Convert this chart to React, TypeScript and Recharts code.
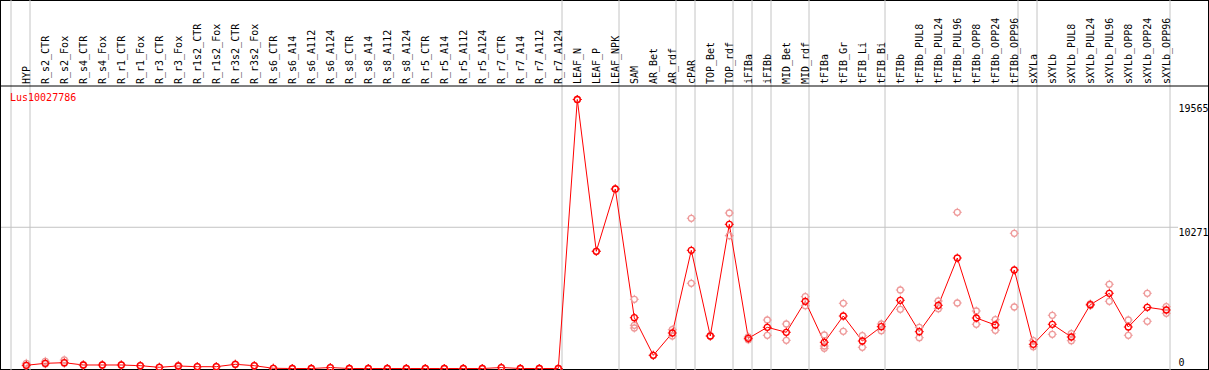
import React from 'react';
import { ComposedChart, Line, XAxis, YAxis, ReferenceLine } from 'recharts';

// ---------- data ----------
const geneId = 'Lus10027786';

const categories = [
  'HYP', 'R_s2_CTR', 'R_s2_Fox', 'R_s4_CTR', 'R_s4_Fox', 'R_r1_CTR', 'R_r1_Fox', 'R_r3_CTR', 'R_r3_Fox',
  'R_r1s2_CTR', 'R_r1s2_Fox', 'R_r3s2_CTR', 'R_r3s2_Fox', 'R_s6_CTR', 'R_s6_A14', 'R_s6_A112', 'R_s6_A124',
  'R_s8_CTR', 'R_s8_A14', 'R_s8_A112', 'R_s8_A124', 'R_r5_CTR', 'R_r5_A14', 'R_r5_A112', 'R_r5_A124',
  'R_r7_CTR', 'R_r7_A14', 'R_r7_A112', 'R_r7_A124', 'LEAF_N', 'LEAF_P', 'LEAF_NPK', 'SAM', 'AR_Bet', 'AR_rdf',
  'cPAR', 'TOP_Bet', 'TOP_rdf', 'iFIBa', 'iFIBb', 'MID_Bet', 'MID_rdf', 'tFIBa', 'tFIB_Gr', 'tFIB_Li', 'tFIB_Bi',
  'tFIBb', 'tFIBb_PUL8', 'tFIBb_PUL24', 'tFIBb_PUL96', 'tFIBb_OPP8', 'tFIBb_OPP24', 'tFIBb_OPP96',
  'sXYLa', 'sXYLb', 'sXYLb_PUL8', 'sXYLb_PUL24', 'sXYLb_PUL96', 'sXYLb_OPP8', 'sXYLb_OPP24', 'sXYLb_OPP96',
];

const meanValues = [
  233, 378, 422, 255, 255, 255, 204, 87, 182, 131, 131, 305, 204, 15, 0, 0, 70, 0, 0, 0, 0, 0, 0, 0, 0, 70, 0, 0, 0,
  19565, 8524, 13055, 3695, 960, 2582, 8596, 2364, 10487, 2196, 2996, 2633, 4887, 1905, 3818, 2000, 3040,
  4960, 2676, 4596, 8036, 3673, 3164, 7164, 1760, 3215, 2291, 4640, 5469, 3018, 4451, 4255,
];

const rep1Values = [
  378, 524, 618, 280, 270, 270, 215, 100, 230, 140, 140, 320, 215, 15, 0, 0, 70, 0, 0, 0, 0, 0, 0, 0, 0, 70, 0, 0, 0,
  19565, 8524, 13055, 5033, 960, 2822, 10924, 2364, 11309, 2300, 3527, 3236, 5222, 2436, 4742, 2385, 3236,
  5709, 2996, 4909, 11360, 4182, 3549, 9833, 2022, 3869, 2531, 4700, 6124, 3527, 5469, 4495,
];

const rep2Values = [
  200, 330, 380, 230, 240, 240, 190, 75, 150, 120, 120, 290, 190, 15, 0, 0, 70, 0, 0, 0, 0, 0, 0, 0, 0, 70, 0, 0, 0,
  19565, 8524, 13055, 3142, 960, 2364, 6196, 2364, 9658, 2100, 2415, 2051, 4567, 1636, 2705, 1542, 2749,
  4305, 2240, 4349, 4764, 3215, 2778, 4473, 1585, 2487, 2022, 4580, 4887, 2415, 3433, 4015,
];

// third replicate, only where it is visible
const rep3Points = [
  { index: 32, value: 2945 },
  { index: 42, value: 1469 },
];

// column index where each gray group separator sits (before that column)
const groupStarts = [0, 1, 29, 32, 35, 36, 38, 39, 40, 42, 46, 53, 54, 61];

const yTicks = [0, 10271, 19565];
const gridValue = 10271;

// ---------- layout / style ----------
const W = 1209;
const H = 370;
const HEADER = 86;
const COL_PX = 19;
const FIRST_X = 26.3;
const Y0 = 368.5;
const PX_PER_UNIT = 0.01375;
const X_DOMAIN: [number, number] = [-FIRST_X / COL_PX, (W - FIRST_X) / COL_PX];
const Y_DOMAIN: [number, number] = [-(H - Y0) / PX_PER_UNIT, (Y0 - HEADER) / PX_PER_UNIT];
const Y_TOP_OF_PAGE = Y0 / PX_PER_UNIT;
const SEP_OFFSET = (11 - FIRST_X) / COL_PX;
const FONT = '"DejaVu Sans Mono", monospace';
const RED = '#ff0000';
const FADED = '#ee9a9a';
const GRAY = '#c4c4c4';
const tickDy = [-3, 8.7, 12.5];

const data = categories.map((name, i) => {
  const r3 = rep3Points.find((p) => p.index === i);
  return {
    x: i,
    name,
    mean: meanValues[i],
    rep1: rep1Values[i],
    rep2: rep2Values[i],
    rep3: r3 ? r3.value : null,
  };
});

const ring = (color: string) => (props: any) => {
  const { cx, cy, value, index } = props;
  if (value == null || cx == null || cy == null || isNaN(cy)) return <g key={`e${index}`} />;
  const r = 3;
  return (
    <g key={`d${index}`}>
      <circle cx={cx} cy={cy} r={r} fill="none" stroke={color} strokeWidth={1.3} />
      <path
        d={`M${cx} ${cy - r - 1.5}V${cy - r}M${cx} ${cy + r}V${cy + r + 1.5}M${cx - r - 1.5} ${cy}H${cx - r}M${cx + r} ${cy}H${cx + r + 1.5}`}
        stroke={color}
        strokeWidth={1}
      />
    </g>
  );
};

const ColumnTick = (props: any) => {
  const { x, payload } = props;
  return (
    <text
      transform={`translate(${x + 3.5},84) rotate(-90)`}
      fontFamily={FONT}
      fontSize={10}
      fill="#000"
      textAnchor="start"
    >
      {categories[payload.value]}
    </text>
  );
};

const ValueTick = (props: any) => {
  const { y, payload } = props;
  const i = yTicks.indexOf(payload.value);
  return (
    <text x={1178.5} y={y + (tickDy[i] ?? 0)} fontFamily={FONT} fontSize={10} fill="#000" textAnchor="start">
      {payload.value}
    </text>
  );
};

export default function App() {
  return (
    <div style={{ position: 'absolute', left: 0, top: 0, width: W, height: H, background: '#fff' }}>
      <div
        style={{
          position: 'absolute',
          left: 0,
          top: 0,
          width: W,
          height: H,
          boxSizing: 'border-box',
          border: '1px solid #000',
        }}
      />
      <div style={{ position: 'absolute', left: 0, top: 0 }}>
        <ComposedChart width={W} height={H} data={data} margin={{ top: 0, right: 0, bottom: 0, left: 0 }}>
          <XAxis
            dataKey="x"
            type="number"
            orientation="top"
            domain={X_DOMAIN}
            allowDataOverflow
            ticks={categories.map((_, i) => i)}
            interval={0}
            height={HEADER}
            tickLine={false}
            axisLine={{ stroke: '#000', strokeWidth: 1 }}
            tick={ColumnTick}
          />
          <YAxis
            type="number"
            orientation="right"
            domain={Y_DOMAIN}
            allowDataOverflow
            ticks={yTicks}
            interval={0}
            width={1}
            mirror
            tickLine={false}
            axisLine={false}
            tick={ValueTick}
          />
          {groupStarts.map((k) => (
            <ReferenceLine
              key={`g${k}`}
              segment={[
                { x: k + SEP_OFFSET, y: Y_DOMAIN[0] },
                { x: k + SEP_OFFSET, y: Y_TOP_OF_PAGE },
              ]}
              ifOverflow="visible"
              stroke={GRAY}
              strokeWidth={1}
            />
          ))}
          <ReferenceLine
            segment={[
              { x: (1 - FIRST_X) / COL_PX, y: gridValue },
              { x: (1178 - FIRST_X) / COL_PX, y: gridValue },
            ]}
            ifOverflow="visible"
            stroke={GRAY}
            strokeWidth={1}
          />
          <Line dataKey="rep1" stroke="none" dot={ring(FADED)} activeDot={false} isAnimationActive={false} legendType="none" />
          <Line dataKey="rep2" stroke="none" dot={ring(FADED)} activeDot={false} isAnimationActive={false} legendType="none" />
          <Line dataKey="rep3" stroke="none" dot={ring(FADED)} activeDot={false} isAnimationActive={false} legendType="none" />
          <Line
            dataKey="mean"
            type="linear"
            stroke={RED}
            strokeWidth={1}
            dot={ring(RED)}
            activeDot={false}
            isAnimationActive={false}
          />
        </ComposedChart>
      </div>
      <svg width={W} height={H} style={{ position: 'absolute', left: 0, top: 0, pointerEvents: 'none' }}>
        <text x={10} y={101} fontFamily={FONT} fontSize={10} fill={RED}>
          {geneId}
        </text>
      </svg>
    </div>
  );
}
